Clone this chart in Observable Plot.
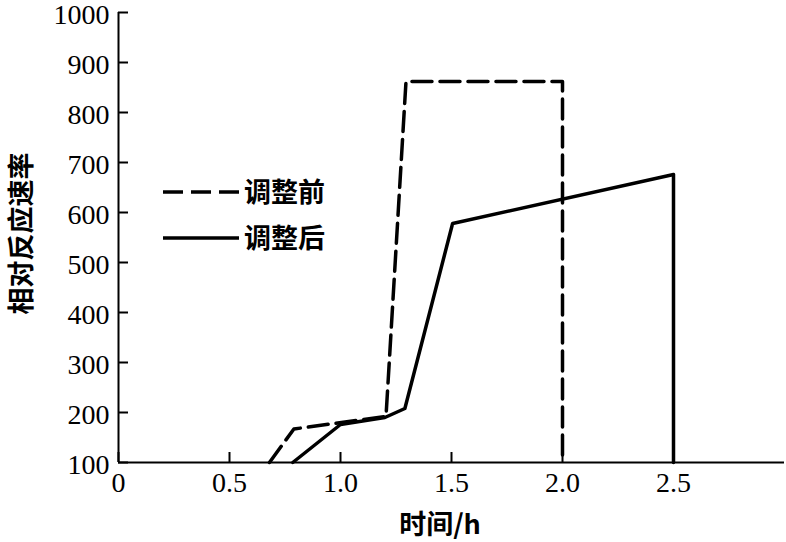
<!DOCTYPE html>
<html>
<head>
<meta charset="utf-8">
<script src="https://cdn.jsdelivr.net/npm/d3@7"></script>
<script src="https://cdn.jsdelivr.net/npm/@observablehq/plot@0.6"></script>
<style>
  html, body { margin: 0; padding: 0; background: #fff; }
  #wrap { position: relative; width: 786px; height: 542px; overflow: hidden; background: #fff; }
  .cjk { position: absolute; font-family: "Noto Sans CJK SC", sans-serif; font-weight: 700; color: #000; white-space: nowrap; line-height: 1; }
  .legend-row { position: absolute; display: flex; align-items: center; }
  .legend-row svg { display: block; }
</style>
</head>
<body>
<div id="wrap"></div>
<script>
// ---- data ----
const seriesNames = ["调整前", "调整后"];
const beforeTime = [0.68, 0.79, 1.205, 1.295, 2.0, 2.0];
const beforeRate = [100, 167, 192, 862, 862, 100];
const afterTime  = [0.785, 1.0, 1.2, 1.29, 1.505, 2.5, 2.5];
const afterRate  = [100, 176, 190, 208, 578, 676, 100];
const xTicks = [0, 0.5, 1.0, 1.5, 2.0, 2.5];
const xTickLabels = ["0", "0.5", "1.0", "1.5", "2.0", "2.5"];
const yTicks = [100, 200, 300, 400, 500, 600, 700, 800, 900, 1000];
const xTitle = "时间/h";
const yTitle = "相对反应速率";

const before = beforeTime.map((t, i) => ({t, r: beforeRate[i]}));
const after = afterTime.map((t, i) => ({t, r: afterRate[i]}));
const xLabelMap = new Map(xTicks.map((d, i) => [d, xTickLabels[i]]));

const tickFont = "Liberation Serif, Times New Roman, serif";
const cjkFont = "Noto Sans CJK SC, sans-serif";
const dash = "20,8";

const chart = Plot.plot({
  width: 786,
  height: 542,
  marginLeft: 118,
  marginRight: 2,
  marginTop: 12,
  marginBottom: 80,
  style: {background: "white", color: "black", overflow: "visible"},
  x: {domain: [0, 3]},
  y: {domain: [100, 1000]},
  marks: [
    // x ticks (inward) and labels
    Plot.axisX(xTicks, {
      tickSize: -10, strokeWidth: 2, text: null, label: null
    }),
    Plot.axisX(xTicks, {
      tickSize: 0, tickPadding: 10,
      tickFormat: d => xLabelMap.get(d),
      fontSize: 28, fontFamily: tickFont, label: null
    }),
    // y ticks (inward) and labels
    Plot.axisY(yTicks, {
      tickSize: -10, strokeWidth: 2, text: null, label: null
    }),
    Plot.axisY(yTicks, {
      tickSize: 0, tickPadding: 9, dy: 3,
      tickFormat: d => String(d),
      fontSize: 28, fontFamily: tickFont, label: null
    }),
    Plot.ruleX([0], {strokeWidth: 2}),
    Plot.ruleY([100], {strokeWidth: 2}),
    Plot.line(before, {x: "t", y: "r", stroke: "black", strokeWidth: 3.5, strokeDasharray: dash, strokeLinejoin: "round"}),
    Plot.line(after, {x: "t", y: "r", stroke: "black", strokeWidth: 3.5, strokeLinejoin: "round"}),
    // y axis title, rotated, left of the tick labels
    Plot.text([yTitle], {
      frameAnchor: "left", dx: -96, dy: -4, rotate: -90,
      fontSize: 27, fontWeight: "bold", fontFamily: cjkFont, fill: "black", textAnchor: "middle"
    })
  ]
});

const wrap = document.getElementById("wrap");
wrap.appendChild(chart);

// x axis title
const xt = document.createElement("div");
xt.className = "cjk";
xt.style.fontSize = "27px";
xt.style.left = "440px";
xt.style.top = "522px";
xt.style.transform = "translate(-50%, -50%)";
xt.textContent = xTitle;
wrap.appendChild(xt);

// legend
const legendRows = [
  {name: seriesNames[0], dash: dash, top: 190},
  {name: seriesNames[1], dash: null, top: 236}
];
legendRows.forEach(row => {
  const div = document.createElement("div");
  div.className = "legend-row";
  div.style.left = "163px";
  div.style.top = (row.top - 16) + "px";
  div.style.height = "32px";
  const svg = d3.create("svg").attr("width", 78).attr("height", 32);
  svg.append("line")
    .attr("x1", 0).attr("x2", 76).attr("y1", 18).attr("y2", 18)
    .attr("stroke", "black").attr("stroke-width", 3.5)
    .attr("stroke-dasharray", row.dash);
  div.appendChild(svg.node());
  const span = document.createElement("span");
  span.style.fontFamily = '"Noto Sans CJK SC", sans-serif';
  span.style.fontWeight = "700";
  span.style.fontSize = "27px";
  span.style.lineHeight = "1";
  span.style.marginLeft = "3px";
  span.textContent = row.name;
  div.appendChild(span);
  wrap.appendChild(div);
});
</script>
</body>
</html>
